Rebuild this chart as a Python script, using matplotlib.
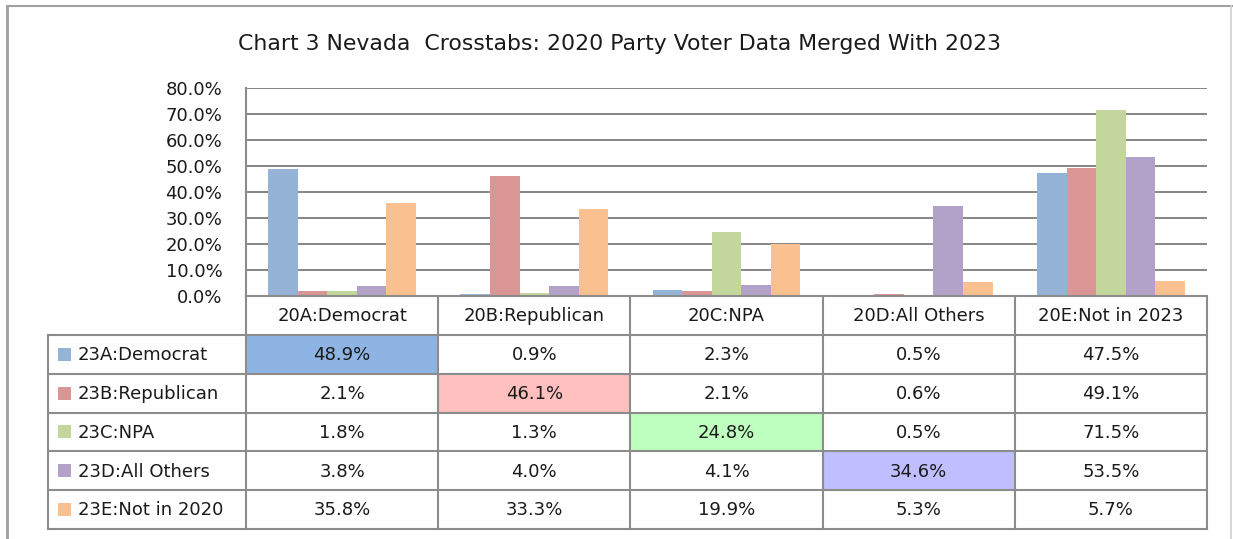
import matplotlib
matplotlib.use("Agg")
import matplotlib.pyplot as plt
from matplotlib.patches import Rectangle
from matplotlib.lines import Line2D
from matplotlib.ticker import FuncFormatter

# ---------------- data ----------------
title = "Chart 3 Nevada  Crosstabs: 2020 Party Voter Data Merged With 2023"
categories = ["20A:Democrat", "20B:Republican", "20C:NPA", "20D:All Others", "20E:Not in 2023"]
series_names = ["23A:Democrat", "23B:Republican", "23C:NPA", "23D:All Others", "23E:Not in 2020"]
s_23A = [48.9, 0.9, 2.3, 0.5, 47.5]
s_23B = [2.1, 46.1, 2.1, 0.6, 49.1]
s_23C = [1.8, 1.3, 24.8, 0.5, 71.5]
s_23D = [3.8, 4.0, 4.1, 34.6, 53.5]
s_23E = [35.8, 33.3, 19.9, 5.3, 5.7]
series_values = [s_23A, s_23B, s_23C, s_23D, s_23E]
y_ticks = [0, 10, 20, 30, 40, 50, 60, 70, 80]

# ---------------- style ----------------
bar_colors = ["#95B3D7", "#D99694", "#C3D69B", "#B3A2C7", "#FAC090"]
highlight_colors = ["#8DB4E2", "#FFBFBF", "#BFFFBF", "#BFBFFF"]
grid_color = "#868686"
line_color = "#8C8C8C"
font = "DejaVu Sans"
fs = 13

W, H = 1233, 539
fig = plt.figure(figsize=(W / 100, H / 100), dpi=100)
fig.patch.set_facecolor("white")

def fx(x):
    return x / W

def fy(y):
    return 1 - y / H

# outer frame
fig.add_artist(Line2D([fx(7), fx(7)], [fy(6), fy(539)], color="#A0A0A0", lw=2.0, transform=fig.transFigure))
fig.add_artist(Line2D([fx(7), fx(1232)], [fy(6), fy(6)], color="#A0A0A0", lw=1.5, transform=fig.transFigure))
fig.add_artist(Line2D([fx(1231), fx(1231)], [fy(6), fy(539)], color="#D0D0D0", lw=1.2, transform=fig.transFigure))

# title
fig.text(fx(620), fy(44), title, ha="center", va="center", fontsize=15.8, family=font, color="#1A1A1A")

# ---------------- bar chart ----------------
left_px, right_px, top_px, bot_px = 246, 1207, 88, 296
ax = fig.add_axes([fx(left_px), fy(bot_px), fx(right_px - left_px), (bot_px - top_px) / H])
n_s = len(series_values)
bw = 1 / (n_s + 1.5)
for j, vals in enumerate(series_values):
    xs = [i + (j - (n_s - 1) / 2) * bw for i in range(len(categories))]
    ax.bar(xs, vals, width=bw, color=bar_colors[j], edgecolor="none", zorder=3)
ax.set_xlim(-0.5, len(categories) - 0.5)
ax.set_ylim(0, 80)
ax.set_yticks(y_ticks)
ax.yaxis.set_major_formatter(FuncFormatter(lambda v, p: f"{v:.1f}%"))
ax.set_xticks([])
ax.tick_params(axis="y", length=0, pad=17, labelsize=fs, labelcolor="#1A1A1A")
for lab in ax.get_yticklabels():
    lab.set_family(font)
ax.grid(axis="y", color=grid_color, lw=1.4, zorder=0)
for s in ["top", "right", "bottom"]:
    ax.spines[s].set_visible(False)
ax.spines["left"].set_color(line_color)
ax.spines["left"].set_linewidth(1.5)
ax.set_facecolor("none")

# ---------------- data table ----------------
tbl_left_px, tbl_bot_px = 48, 529
cat_px = (right_px - left_px) / len(categories)
xL = -0.5 - (left_px - tbl_left_px) / cat_px
tax = fig.add_axes([fx(tbl_left_px), fy(tbl_bot_px), fx(right_px - tbl_left_px), (tbl_bot_px - bot_px) / H])
nrows = n_s + 1
tax.set_xlim(xL, len(categories) - 0.5)
tax.set_ylim(nrows, 0)
tax.axis("off")
row_px = (tbl_bot_px - bot_px) / nrows

# highlighted diagonal cells
for i, c in enumerate(highlight_colors):
    tax.add_patch(Rectangle((i - 0.5, i + 1), 1, 1, facecolor=c, edgecolor="none", zorder=1))

lw = 1.5
for k in range(len(categories) + 1):
    tax.plot([k - 0.5, k - 0.5], [0, nrows], color=line_color, lw=lw, zorder=3, clip_on=False)
tax.plot([-0.5, len(categories) - 0.5], [0, 0], color=line_color, lw=lw, zorder=3, clip_on=False)
for r in range(1, nrows + 1):
    tax.plot([xL, len(categories) - 0.5], [r, r], color=line_color, lw=lw, zorder=3, clip_on=False)
tax.plot([xL, xL], [1, nrows], color=line_color, lw=lw, zorder=3, clip_on=False)

for i, cat in enumerate(categories):
    tax.text(i, 0.52, cat, ha="center", va="center", fontsize=fs, family=font, color="#1A1A1A", zorder=4)

for j, (name, vals) in enumerate(zip(series_names, series_values)):
    r = j + 1
    for i, v in enumerate(vals):
        tax.text(i, r + 0.52, f"{v:.1f}%", ha="center", va="center", fontsize=fs, family=font,
                 color="#1A1A1A", zorder=4)
    key_x = xL + (58 - tbl_left_px) / cat_px
    key_w = 13 / cat_px
    key_h = 13 / row_px
    tax.add_patch(Rectangle((key_x, r + 0.5 - key_h / 2), key_w, key_h, facecolor=bar_colors[j],
                            edgecolor="none", zorder=4))
    tax.text(xL + (78 - tbl_left_px) / cat_px, r + 0.52, name, ha="left", va="center", fontsize=fs,
             family=font, color="#1A1A1A", zorder=4)

fig.savefig("out.png", dpi=100, facecolor="white")
